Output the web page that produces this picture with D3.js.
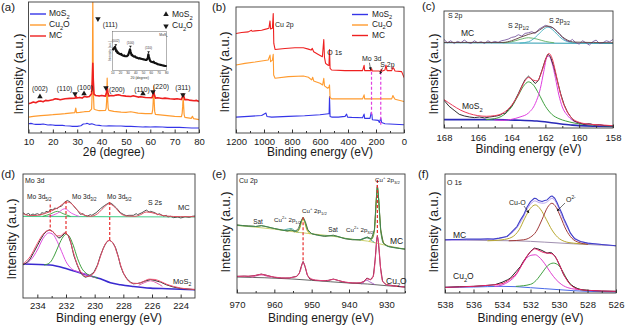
<!DOCTYPE html>
<html>
<head>
<meta charset="utf-8">
<script src="https://cdn.jsdelivr.net/npm/d3@7"></script>
<style>
  body { margin: 0; background: #fff; }
  text { font-family: "Liberation Sans", Arial, sans-serif; }
</style>
</head>
<body>
<svg id="fig" width="625" height="328"></svg>
<script>
// ---------- (a) XRD : [2theta, intensity] ----------
const xrdTicks = [10, 20, 30, 40, 50, 60, 70, 80];
const xrdMoS2 = [[10,28],[11,29],[12,27],[13,26],[15,26],[16,27],[18,24],[19,25],[20,24],[21,23],[22,23],[24,23],[25,22],[27,21],[28,20],[30,20],[31.5,22],[32.5,27],[33.5,28],[34,29],[35,26],[36,28],[37.5,24],[39,23],[40,22],[42,21],[43,22],[46,21],[48,21],[50,20],[52,20],[55,19],[57,18],[58,19],[60,18],[62,19],[65,18],[67,17],[70,17],[72,17],[75,16],[77,15],[80,15]];
const xrdCu2O = [[10,48],[12,50],[15,52],[18,54],[20,55],[23,57],[25,58],[27,60],[29,61],[29.4,75],[29.7,61],[31,62],[33,64],[35,65],[35.9,72],[36.1,110],[36.25,200],[36.4,420],[36.55,200],[36.7,110],[36.9,72],[37.5,70],[39,67],[41.6,68],[41.9,75],[42.1,100],[42.3,165],[42.5,100],[42.7,75],[43.0,68],[45,65],[48,63],[50,62],[52,64],[55,60],[58,58],[60.7,58],[61.0,70],[61.2,95],[61.4,142],[61.6,95],[61.8,65],[62.1,56],[65,54],[70,50],[72.8,49],[73.1,60],[73.3,80],[73.5,110],[73.7,80],[73.9,55],[74.2,47],[76.8,44],[77.3,50],[77.8,43],[80,40]];
const xrdMC = [[10,88],[11,90],[12,93],[13,91],[14,95],[15,96],[16,94],[17,98],[18,97],[20,100],[21,103],[22,102],[23,100],[25,103],[27,104],[29.2,105],[29.5,111],[29.8,105],[31,107],[32,105],[33,110],[34,108],[35,110],[35.9,118],[36.2,160],[36.4,210],[36.6,160],[36.9,117],[37.5,113],[38.5,112],[39,111],[40,113],[41.6,111],[42.0,122],[42.3,138],[42.6,122],[43,111],[44,113],[45,112],[46,114],[47,115],[48,113],[50,111],[52,110],[53,112],[55,108],[56,109],[58,107],[60.7,106],[61.1,115],[61.4,125],[61.7,115],[62.1,105],[63,106],[65,104],[66,105],[68,103],[70,102],[71,103],[72.8,101],[73.2,110],[73.5,118],[73.8,110],[74.2,100],[75,101],[76,99],[78,97],[79,98],[80,95]];
// label text, 2theta, intensity ; marker type, marker 2theta, marker intensity
const xrdLabels = [
  ["(002)", 14.7, 133, "up", 14.7, 109],
  ["(110)", 24.8, 133, "down", 29.1, 118],
  ["(100)", 33.2, 136, "up", 32.8, 118],
  ["(200)", 46.3, 130, "down", 41.8, 136],
  ["(110)", 56.6, 130, "up", 57.0, 118],
  ["(220)", 64.4, 137, "down", 61.1, 124],
  ["(311)", 73.4, 136, "down", 73.4, 115],
  ["(111)", 43.5, 325, "down", 38.5, 343]
];
// inset: MoS2 XRD, [2theta, % of inset height]
const insetTicks = [10, 20, 30, 40, 50, 60, 70, 80];
const insetMoS2 = [[10,53],[11,56],[12,58],[13,61],[13.6,57],[14.5,50],[15,52],[16,46],[17,47],[18,44],[20,42],[21,43],[22,40],[24,38],[25,39],[26,37],[28,37],[30,40],[31.5,48],[32.4,55],[33.3,48],[34.5,40],[35,41],[36,38],[38,36],[39,37],[40,34],[42,33],[44,31],[45,32],[46,31],[48,30],[50,29],[52,28],[54,28],[55.5,32],[56.2,42],[57,35],[58.5,25],[60,23],[62,22],[63,23],[64,20],[66,19],[68,17],[70,16],[72,15],[74,14],[76,13],[78,12],[80,12]];
const insetLabels = [["(002)", 14, 66], ["(100)", 33, 62], ["(110)", 56.5, 48]];

// ---------- (b) XPS survey : [BE, intensity] ----------
const surveyTicks = [1200, 1000, 800, 600, 400, 200, 0];
const surveyMC = [[1200,300],[1160,303],[1112,305],[1090,310],[1085,307],[1064,308],[1017,310],[981,314],[965,316],[957,338],[953,314],[940,316],[934,360],[930,270],[921,252],[850,255],[779,257],[719,257],[683,253],[664,250],[655,255],[645,245],[612,237],[583,230],[573,282],[568,228],[560,210],[545,205],[536,204],[532,252],[528,195],[517,190],[421,188],[296,188],[285,204],[281,188],[236,188],[231,194],[227,187],[183,187],[168,186],[163,192],[158,186],[136,190],[129,205],[121,188],[88,188],[79,198],[74,195],[64,187],[17,185],[0,168]];
const surveyCu2O = [[1200,205],[1136,210],[1064,214],[1005,218],[970,220],[957,235],[953,215],[940,220],[934,237],[931,175],[921,165],[826,170],[719,172],[683,168],[660,160],[652,168],[645,157],[600,150],[581,145],[573,165],[568,142],[545,135],[536,138],[532,145],[528,107],[517,103],[296,103],[285,115],[281,103],[88,103],[79,113],[74,108],[64,102],[0,95]];
const surveyMoS2 = [[1200,48],[1112,50],[1017,53],[986,60],[979,50],[945,48],[826,50],[710,52],[600,55],[540,58],[535,58],[532,110],[528,50],[517,48],[469,48],[421,50],[410,57],[403,48],[374,47],[296,46],[285,57],[281,44],[243,44],[234,62],[229,55],[226,40],[183,38],[176,32],[166,45],[160,32],[136,28],[0,25]];
const surveyMarks = [[232, 185, 50], [166, 185, 25]];

// ---------- (c) S 2p : [BE, intensity] ----------
const s2pTicks = [168, 166, 164, 162, 160, 158];
const s2pMoS2Data = [[168,83],[167.7,65],[167.4,53],[167.1,41],[166.8,36],[166.5,33],[166.2,31],[165.9,33],[165.6,30],[165.3,33],[165,35],[164.7,38],[164.5,44],[164.4,42],[164.2,55],[164,65],[163.8,83],[163.6,103],[163.4,125],[163.2,145],[163,155],[162.8,145],[162.6,133],[162.4,143],[162.2,173],[162,205],[161.85,221],[161.7,213],[161.5,183],[161.3,143],[161.1,103],[160.9,71],[160.7,48],[160.5,33],[160.3,21],[160,15],[159.7,11],[159.4,13],[159.1,9],[158.8,10],[158.5,7],[158.2,7],[158,6]];
const s2pMoS2Fit = [[168,85],[167.5,68],[167,53],[166.5,43],[166,37],[165.5,35],[165,37],[164.5,45],[164,68],[163.6,100],[163.3,133],[163,151],[162.7,143],[162.5,141],[162.2,171],[162,203],[161.8,223],[161.6,208],[161.4,168],[161.2,121],[161,83],[160.7,48],[160.4,28],[160,17],[159.5,12],[159,10],[158,7]];
const s2pMoS2Half = [[165.5,25],[165,28],[164.5,38],[164,63],[163.6,98],[163.3,125],[163,138],[162.7,128],[162.4,103],[162,65],[161.6,40],[161.2,28],[160.8,21],[160.3,15],[159.8,11],[159,8],[158,6]];
const s2pMoS2ThreeHalf = [[165,24],[164.5,23],[164,26],[163.5,33],[163,45],[162.6,73],[162.3,118],[162.1,168],[161.9,213],[161.8,215],[161.6,193],[161.4,148],[161.2,98],[161,63],[160.7,38],[160.4,23],[160,15],[159.5,11],[159,9],[158,7]];
const s2pMoS2Base = [[168,25],[165,25],[163.5,23],[162.5,21],[161.5,15],[160.5,9],[160,7],[158,5]];
const s2pMCData = [[168,265],[167.8,255],[167.6,261],[167.4,253],[167.2,259],[167,255],[166.8,263],[166.6,256],[166.4,253],[166.2,261],[166,255],[165.8,258],[165.6,253],[165.4,261],[165.2,255],[165,259],[164.8,256],[164.6,261],[164.4,263],[164.2,266],[164,271],[163.8,273],[163.6,279],[163.4,275],[163.2,283],[163,285],[162.8,288],[162.6,283],[162.4,295],[162.2,301],[162,307],[161.8,303],[161.6,301],[161.4,293],[161.2,283],[161,271],[160.8,263],[160.6,258],[160.4,265],[160.2,255],[160,251],[159.8,261],[159.6,255],[159.4,248],[159.2,258],[159,263],[158.8,253],[158.6,255],[158.4,261],[158.2,258],[158,265]];
const s2pMCFit = [[168,256],[164.5,256],[164,261],[163.5,271],[163,280],[162.5,288],[162.2,298],[161.9,305],[161.6,301],[161.3,288],[161,273],[160.7,263],[160.3,257],[158,255]];
const s2pMCBase = [[168,255],[158,253]];
const s2pMCHalf = [[164.5,255],[164,258],[163.5,265],[163,270],[162.5,266],[162,259],[161.5,255]];
const s2pMCThreeHalf = [[163.5,254],[163,258],[162.6,271],[162.3,286],[162,299],[161.85,302],[161.6,295],[161.3,280],[161,266],[160.6,257],[160.2,254]];

// ---------- (d) Mo 3d : [BE, intensity] ----------
const mo3dTicks = [234, 232, 230, 228, 226, 224];
const mo3dMCData = [[235,258],[234.8,252],[234.6,256],[234.5,250],[234.3,254],[234.2,252],[234,255],[233.8,251],[233.7,258],[233.5,256],[233.4,262],[233.2,260],[233.1,268],[232.9,266],[232.8,272],[232.6,270],[232.5,275],[232.3,278],[232.1,290],[231.9,295],[231.7,290],[231.5,280],[231.2,265],[231,253],[230.8,255],[230.7,250],[230.5,248],[230.3,252],[230.2,250],[229.9,258],[229.6,270],[229.3,280],[229,288],[228.8,285],[228.5,273],[228.2,258],[228,253],[227.8,249],[227.6,250],[227.3,250],[227.1,255],[227,252],[226.7,258],[226.4,266],[226.2,260],[226.1,262],[225.8,258],[225.6,252],[225.5,255],[225.2,248],[225,250],[224.9,245],[224.7,247],[224.5,243],[224.2,245],[224,242],[223.8,244],[223.7,246],[223.4,244],[223.2,247],[223,248]];
const mo3dMCFit = [[235,255],[234.5,249],[234,250],[233.5,255],[233,264],[232.5,275],[232.2,285],[231.9,290],[231.6,285],[231.2,265],[230.8,252],[230.3,247],[229.8,255],[229.4,272],[229,285],[228.6,275],[228.2,256],[227.8,248],[227.2,247],[226.8,252],[226.4,260],[226,258],[225.5,252],[225,248],[224,246],[223,246]];
const mo3dMCBase = [[235,247],[223,245]];
const mo3dMCComp1 = [[233.6,247],[233.1,254],[232.6,262],[232.2,255],[231.7,247]];
const mo3dMCComp2 = [[233.2,247],[232.6,256],[232.1,270],[231.6,256],[231.1,247]];
const mo3dMoS2Data = [[235,100],[234.7,108],[234.5,118],[234.25,138],[234,158],[233.8,175],[233.55,193],[233.35,202],[233.15,206],[232.95,202],[232.75,192],[232.5,181],[232.3,186],[232.05,198],[231.85,190],[231.65,165],[231.45,128],[231.2,98],[231,78],[230.8,67],[230.65,63],[230.4,66],[230.05,78],[229.8,100],[229.6,128],[229.4,150],[229.25,163],[229.1,172],[228.95,175],[228.75,168],[228.55,153],[228.35,125],[228.2,98],[228,75],[227.75,58],[227.5,48],[227.3,43],[227,44],[226.8,46],[226.5,51],[226.1,56],[225.8,53],[225.4,48],[225,40],[224.5,33],[224,29],[223.5,27],[223,25]];
const mo3dMoS2Fit = [[235,103],[234.5,125],[234,165],[233.6,193],[233.2,205],[232.9,200],[232.6,188],[232.4,188],[232.1,197],[231.8,185],[231.5,140],[231.2,100],[230.9,75],[230.6,65],[230.2,70],[229.9,88],[229.6,125],[229.3,160],[229,174],[228.7,165],[228.4,130],[228.1,88],[227.8,60],[227.4,45],[227,44],[226.6,50],[226.2,57],[225.8,56],[225.4,50],[225,42],[224.5,35],[224,30],[223,26]];
const mo3dMoS2Base = [[235,103],[233.1,100],[231.9,88],[230.8,73],[229.6,58],[228.9,46],[228.2,40],[227.3,35],[226.1,30],[224.95,28],[223,25]];
const mo3dMoS2Comp1 = [[234.8,104],[234.4,118],[234,145],[233.6,180],[233.2,197],[232.9,192],[232.6,170],[232.3,140],[232,110],[231.6,88],[231.2,80],[230.8,74],[230.4,68],[230,62]];
const mo3dMoS2Comp2 = [[233.5,100],[233.1,108],[232.8,130],[232.5,160],[232.2,185],[232,193],[231.8,188],[231.5,160],[231.2,120],[230.9,90],[230.6,75],[230.2,66],[229.8,60]];
const mo3dMoS2Comp3 = [[226.9,39],[226.5,47],[226.1,52],[225.7,46],[225.3,36]];
const mo3dMarks = [[233.1, 283, 203], [232.0, 293, 193], [228.95, 290, 173]];

// ---------- (e) Cu 2p : [BE, intensity] ----------
const cu2pTicks = [970, 960, 950, 940, 930];
const cu2pMCData = [[970,205],[968.5,203],[967,202],[965.5,201],[965,200],[963.5,203],[962,199],[960,194],[958,190],[956.5,186],[955.5,190],[954.5,184],[953.5,195],[952.9,215],[952.3,228],[951.7,215],[951,190],[950,178],[948.5,175],[946.5,170],[944.2,174],[943,170],[941,163],[939,160],[937,160],[935.5,166],[935,168],[934,163],[933.2,190],[932.7,280],[932.4,325],[932.1,290],[931.5,190],[930.8,150],[929.5,140],[928,137],[926.5,134],[925,132]];
const cu2pMCFit = [[970,204],[965,200],[963.5,202],[960,194],[957,188],[955.5,189],[954,186],[953.2,198],[952.7,218],[952.3,226],[951.8,214],[951.2,192],[950,179],[947,172],[944.2,172],[941,164],[937,160],[935.2,166],[934,162],[933.2,188],[932.7,278],[932.4,320],[932.1,288],[931.5,188],[930.8,150],[929.5,140],[927,135],[925,132]];
const cu2pMCBase = [[970,203],[960,192],[954,183],[950,178],[945,172],[940,163],[935,156],[930,143],[925,132]];
const cu2pMCCuI = [[934.5,157],[933.5,170],[933,215],[932.6,298],[932.4,316],[932.1,288],[931.6,200],[931,160],[930.3,145]];
const cu2pMCCuIHalf = [[954,183],[953.2,194],[952.7,213],[952.3,222],[951.9,213],[951.3,190],[950.5,178]];
const cu2pMCCuII = [[937,160],[935.8,166],[935.1,168],[934.3,161],[933.3,153]];
const cu2pMCCuIIHalf = [[957.5,189],[956.2,193],[955.5,194],[954.6,188],[953.6,183]];
const cu2pCu2OData = [[970,50],[968,51],[967,50],[965,53],[963.5,57],[962,53],[960,47],[958,45],[956,45],[955,48],[954,50],[953.3,60],[952.8,80],[952.3,95],[951.8,80],[951.2,55],[950.5,42],[949,38],[947,37],[945.5,38],[944.2,42],[943,38],[941,32],[939,30],[937,30],[936,35],[935.2,45],[934.3,40],[933.5,50],[933,100],[932.6,160],[932.4,172],[932.1,150],[931.6,80],[931,35],[930,25],[928,22],[925,18]];
const cu2pCu2OFit = [[970,50],[966,51],[963.5,56],[961,50],[957,45],[955,47],[953.8,52],[953,68],[952.3,93],[951.6,74],[951,50],[949,39],[946,37],[944.2,41],[942,35],[938,30],[936,34],[935.2,43],[934.2,40],[933.4,55],[932.9,110],[932.4,170],[932,140],[931.5,70],[931,36],[930,25],[925,18]];
const cu2pCu2OBase = [[970,48],[955,42],[950,38],[940,30],[935,27],[930,22],[925,18]];
const cu2pCu2OComp = [[936.5,27],[935.3,38],[934.2,32],[933.2,26]];
const cu2pCu2OSat = [[966,47],[963.5,54],[961,46]];
const cu2pMarks = [[952.3, 228, 95], [932.4, 340, 172]];

// ---------- (f) O 1s : [BE, intensity] ----------
const o1sTicks = [538, 536, 534, 532, 530, 528, 526];
const o1sMCData = [[538,160],[537.5,161],[537,161],[536.5,162],[536,162],[535.5,162],[535,163],[534.6,162],[534.2,165],[533.65,170],[533.4,180],[532.95,200],[532.7,220],[532.48,235],[532.25,258],[532,275],[531.73,285],[531.6,284],[531.43,278],[531.19,275],[531,278],[530.84,280],[530.6,290],[530.49,292],[530.3,285],[530.14,272],[530.02,260],[529.8,240],[529.67,225],[529.4,200],[529.2,180],[528.9,163],[528.5,155],[528,150],[527,146],[526,142]];
const o1sMCFit = [[538,158],[536,160],[535,161],[534,166],[533.4,177],[533,194],[532.5,228],[532.2,255],[532,267],[531.7,277],[531.4,272],[531.1,270],[530.8,275],[530.5,285],[530.2,272],[530,253],[529.7,222],[529.4,195],[529.1,175],[528.7,160],[528.2,152],[527,146],[526,142]];
const o1sMCBase = [[538,160],[535,158],[533,157],[531,153],[529,148],[527,144],[526,142]];
const o1sMCCuO = [[535,157],[534,160],[533.3,168],[532.8,190],[532.4,225],[532,255],[531.66,265],[531.3,252],[530.9,222],[530.5,190],[530.1,168],[529.6,155],[529,150],[528,147]];
const o1sMCO2 = [[533.5,157],[532.5,160],[532,168],[531.6,185],[531.2,220],[530.8,258],[530.5,270],[530.2,258],[529.9,230],[529.5,190],[529.1,165],[528.6,152],[528,147]];
const o1sCu2OData = [[538,17],[537,19],[536,20],[535,23],[534.5,25],[534,32],[533.6,40],[533.4,45],[533,65],[532.7,80],[532.5,95],[532.25,110],[532,125],[531.73,135],[531.5,133],[531.2,128],[530.84,120],[530.6,122],[530.49,120],[530.3,112],[530.14,100],[529.9,78],[529.67,55],[529.4,38],[529.2,25],[528.8,15],[528.5,10],[528,8],[527,6],[526,5]];
const o1sCu2OFit = [[538,17],[536,20],[535,23],[534,28],[533.5,40],[533,58],[532.6,85],[532.3,108],[532,124],[531.7,133],[531.4,128],[531.1,122],[530.8,120],[530.5,118],[530.2,105],[529.9,78],[529.6,50],[529.3,30],[529,18],[528.6,11],[528,8],[526,5]];
const o1sCu2OCuO = [[534.5,20],[534,24],[533.5,35],[533,55],[532.6,85],[532.2,108],[531.9,114],[531.66,115],[531.4,108],[531,88],[530.6,62],[530.2,40],[529.8,25],[529.3,15],[528.5,10]];
const o1sCu2OO2 = [[533,20],[532,26],[531.6,38],[531.2,60],[530.8,82],[530.4,90],[530,82],[529.7,62],[529.4,38],[529,20],[528.5,11],[528,8]];
const o1sCu2OBase = [[538,17],[536,18],[534,20],[533,19],[532,16],[531,13],[530,10],[529,7],[528,5],[526,3]];

// ---------- drawing ----------
const svg = d3.select("#fig");
const INK = "#1a1a1a";

const defs = svg.append("defs");
defs.append("marker").attr("id", "arr").attr("viewBox", "0 0 10 10")
  .attr("refX", 9).attr("refY", 5).attr("markerWidth", 5).attr("markerHeight", 5)
  .attr("orient", "auto")
  .append("path").attr("d", "M0,0L10,5L0,10z").attr("fill", INK);

// text with _{sub} and ^{sup}
const label = (g, x, y, str, size, anchor = "start", opts = {}) => {
  const t = g.append("text").attr("x", x).attr("y", y)
    .attr("font-size", size).attr("text-anchor", anchor)
    .attr("dominant-baseline", "middle").attr("fill", opts.color || INK);
  if (opts.rotate) t.attr("transform", `rotate(-90,${x},${y})`);
  const re = /([_^])\{([^}]*)\}|([^_^]+)/g;
  let m;
  while ((m = re.exec(str))) {
    if (m[3]) t.append("tspan").text(m[3]);
    else t.append("tspan").attr("baseline-shift", m[1] === "_" ? "sub" : "super")
      .attr("font-size", "68%").text(m[2]);
  }
  return t;
};

const panel = (cfg) => {
  const [x0, y0, x1, y1] = cfg.box;
  const x = d3.scaleLinear().domain(cfg.xDomain).range([x0, x1]);
  const y = d3.scaleLinear().domain(cfg.yDomain).range([y1, y0]);
  const g = svg.append("g");
  defs.append("clipPath").attr("id", "clip-" + cfg.id)
    .append("rect").attr("x", x0).attr("y", y0).attr("width", x1 - x0).attr("height", y1 - y0);
  const plot = g.append("g").attr("clip-path", `url(#clip-${cfg.id})`);

  const minor = d3.axisBottom(x).tickValues(cfg.minor).tickSize(-2).tickFormat("");
  g.append("g").attr("transform", `translate(0,${y1})`).call(minor)
    .call((s) => s.select(".domain").remove())
    .selectAll("line").attr("stroke", "#333");
  const major = d3.axisBottom(x).tickValues(cfg.ticks).tickSize(-3.5)
    .tickPadding(cfg.pad).tickFormat(d3.format("d"));
  const ax = g.append("g").attr("transform", `translate(0,${y1})`).call(major);
  ax.select(".domain").remove();
  ax.selectAll("line").attr("stroke", "#333");
  ax.selectAll("text").attr("font-size", 9.5).attr("fill", INK)
    .attr("font-family", '"Liberation Sans", Arial, sans-serif');

  g.append("rect").attr("x", x0).attr("y", y0).attr("width", x1 - x0).attr("height", y1 - y0)
    .attr("fill", "none").attr("stroke", "#3a3a3a").attr("stroke-width", 0.9);

  label(g, (x0 + x1) / 2, cfg.titleY, cfg.xTitle, 12, "middle");
  label(g, cfg.yTitleX, cfg.yTitleY, "Intensity (a.u.)", 12.8, "middle", { rotate: true });
  label(g, cfg.tagX, cfg.tagY, cfg.tag, 11.5, "start");
  const ann = svg.append("g");
  return { x, y, g, plot, ann };
};

const draw = (p, data, color, width = 1, smooth = false) => {
  const line = d3.line().x((d) => p.x(d[0])).y((d) => p.y(d[1]));
  if (smooth) line.curve(d3.curveMonotoneX);
  p.plot.append("path").datum(data).attr("d", line).attr("fill", "none")
    .attr("stroke", color).attr("stroke-width", width)
    .attr("stroke-linejoin", "round").attr("stroke-linecap", "round");
};

const vdash = (p, marks, color) => {
  p.plot.selectAll(null).data(marks).join("line")
    .attr("x1", (d) => p.x(d[0])).attr("x2", (d) => p.x(d[0]))
    .attr("y1", (d) => p.y(d[1])).attr("y2", (d) => p.y(d[2]))
    .attr("stroke", color).attr("stroke-width", 1.2).attr("stroke-dasharray", "3,2");
};

const tri = (g, x, y, dir, size = 14) => {
  g.append("path").attr("d", d3.symbol(d3.symbolTriangle, size)())
    .attr("transform", `translate(${x},${y}) rotate(${dir === "down" ? 180 : 0})`)
    .attr("fill", INK);
};

const range = (a, b, s) => d3.range(a, b + s / 2, s);

// ----- (a) -----
const pa = panel({
  id: "a", box: [28.5, 2, 199, 133], xDomain: [10, 80], yDomain: [0, 394],
  ticks: xrdTicks, minor: range(15, 75, 10), pad: 5,
  xTitle: "2θ (degree)", titleY: 153, yTitleX: 20, yTitleY: 74, tag: "(a)", tagX: 1, tagY: 8
});
draw(pa, xrdMoS2, "#3535e8", 1.1);
draw(pa, xrdCu2O, "#ff9b2f", 1.2);
draw(pa, xrdMC, "#ee2020", 1.6);
xrdLabels.forEach(([t, lx, ly, dir, mx, my]) => {
  label(pa.ann, pa.x(lx), pa.y(ly), t, 6.8, "middle");
  tri(pa.ann, pa.x(mx), pa.y(my), dir, 13);
});
// legend (a)
[["MoS_{2}", "#3535e8"], ["Cu_{2}O", "#ff9b2f"], ["MC", "#ee2020"]].forEach(([t, c], i) => {
  const ly = 14 + i * 11;
  pa.ann.append("line").attr("x1", 30).attr("x2", 46).attr("y1", ly).attr("y2", ly)
    .attr("stroke", c).attr("stroke-width", 1.4);
  label(pa.ann, 49, ly, t, 8.5);
});
tri(pa.ann, 166, 14.5, "up", 13);
label(pa.ann, 172, 14.5, "MoS_{2}", 8.5);
tri(pa.ann, 166, 26, "down", 13);
label(pa.ann, 172, 26, "Cu_{2}O", 8.5);
// inset
{
  const ix = d3.scaleLinear().domain([10, 80]).range([112.7, 166.7]);
  const iy = d3.scaleLinear().domain([0, 100]).range([70.7, 31.7]);
  const ig = pa.ann.append("g");
  ig.append("rect").attr("x", 112.7).attr("y", 31.7).attr("width", 54).attr("height", 39)
    .attr("fill", "#fff").attr("stroke", "#666").attr("stroke-width", 0.5);
  ig.append("path").datum(insetMoS2)
    .attr("d", d3.line().x((d) => ix(d[0])).y((d) => iy(d[1])))
    .attr("fill", "none").attr("stroke", "#111").attr("stroke-width", 2.2).attr("stroke-linejoin", "round");
  insetTicks.forEach((t) => {
    ig.append("text").attr("x", ix(t)).attr("y", 73.5).attr("font-size", 3.2)
      .attr("text-anchor", "middle").attr("fill", "#333").text(t);
  });
  label(ig, 139.7, 77.5, "2θ (degree)", 3.6, "middle", { color: "#333" });
  label(ig, 110.2, 51, "Intensity (a.u.)", 3.2, "middle", { color: "#333", rotate: true });
  label(ig, 163.5, 34.5, "MoS_{2}", 3.4, "middle", { color: "#333" });
  insetLabels.forEach(([t, lx, ly]) => {
    label(ig, ix(lx), iy(ly) - 3.5, t, 3.2, "middle", { color: "#333" });
    tri(ig, ix(lx), iy(ly), "down", 3);
  });
}

// ----- (b) -----
const pb = panel({
  id: "b", box: [236, 7, 404, 133], xDomain: [1200, 0], yDomain: [0, 380],
  ticks: surveyTicks, minor: range(100, 1100, 200), pad: 5,
  xTitle: "Binding energy (eV)", titleY: 153, yTitleX: 226, yTitleY: 72, tag: "(b)", tagX: 212, tagY: 8
});
draw(pb, surveyMoS2, "#3535e8", 1.1);
draw(pb, surveyCu2O, "#ff9b2f", 1.1);
draw(pb, surveyMC, "#ee2020", 1.1);
vdash(pb, surveyMarks, "#e040e0");
label(pb.ann, pb.x(921), pb.y(325), "Cu 2p", 7);
label(pb.ann, pb.x(548), pb.y(240), "O 1s", 7);
label(pb.ann, pb.x(300), pb.y(222), "Mo 3d", 7);
label(pb.ann, pb.x(170), pb.y(206), "S 2p", 7);
pb.ann.append("line").attr("x1", pb.x(247)).attr("y1", pb.y(212)).attr("x2", pb.x(238)).attr("y2", pb.y(190))
  .attr("stroke", INK).attr("stroke-width", 0.6).attr("marker-end", "url(#arr)");
pb.ann.append("line").attr("x1", pb.x(152)).attr("y1", pb.y(197)).attr("x2", pb.x(172)).attr("y2", pb.y(178))
  .attr("stroke", INK).attr("stroke-width", 0.6).attr("marker-end", "url(#arr)");
[["MoS_{2}", "#3535e8"], ["Cu_{2}O", "#ff9b2f"], ["MC", "#ee2020"]].forEach(([t, c], i) => {
  const ly = 14.5 + i * 10.5;
  pb.ann.append("line").attr("x1", 352).attr("x2", 368).attr("y1", ly).attr("y2", ly)
    .attr("stroke", c).attr("stroke-width", 1.4);
  label(pb.ann, 372, ly, t, 8.3);
});

// ----- (c) -----
const pc = panel({
  id: "c", box: [444, 11, 613, 128], xDomain: [168, 158], yDomain: [0, 350],
  ticks: s2pTicks, minor: range(159, 167, 2), pad: 6.5,
  xTitle: "Binding energy (eV)", titleY: 150, yTitleX: 435, yTitleY: 74, tag: "(c)", tagX: 422, tagY: 7
});
draw(pc, s2pMoS2Base, "#2a2ab8", 1.6, true);
draw(pc, s2pMoS2Half, "#3fa03f", 1, true);
draw(pc, s2pMoS2ThreeHalf, "#e03ce0", 1, true);
draw(pc, s2pMoS2Data, "#303030", 1);
draw(pc, s2pMoS2Fit, "#ec3a5a", 1, true);
draw(pc, s2pMCBase, "#2a9ab0", 1, true);
draw(pc, s2pMCHalf, "#60b060", 0.9, true);
draw(pc, s2pMCThreeHalf, "#40b0c0", 0.9, true);
draw(pc, s2pMCData, "#7a5aa0", 0.9);
draw(pc, s2pMCFit, "#5a3a3a", 0.9, true);
label(pc.ann, 448, 16, "S 2p", 7);
label(pc.ann, 461, 34, "MC", 8.5);
label(pc.ann, 462, 107, "MoS_{2}", 8.5);
label(pc.ann, 508, 26, "S 2p_{1/2}", 7);
label(pc.ann, 549, 21, "S 2p_{3/2}", 7);

// ----- (d) -----
const pd = panel({
  id: "d", box: [23, 174, 195, 298], xDomain: [235, 223], yDomain: [0, 375],
  ticks: mo3dTicks, minor: range(225, 233, 2), pad: 4.5,
  xTitle: "Binding energy (eV)", titleY: 319, yTitleX: 13, yTitleY: 239, tag: "(d)", tagX: 1, tagY: 175
});
draw(pd, mo3dMoS2Base, "#3a2ad0", 1.6, true);
draw(pd, mo3dMoS2Comp1, "#e050e0", 1, true);
draw(pd, mo3dMoS2Comp2, "#40a040", 1, true);
draw(pd, mo3dMoS2Comp3, "#e050a0", 0.9, true);
draw(pd, mo3dMoS2Data, "#303030", 1);
draw(pd, mo3dMoS2Fit, "#f05070", 1, true);
draw(pd, mo3dMCBase, "#50d090", 1.2, true);
draw(pd, mo3dMCComp1, "#40a040", 0.9, true);
draw(pd, mo3dMCComp2, "#e050e0", 0.9, true);
draw(pd, mo3dMCData, "#404040", 0.9);
draw(pd, mo3dMCFit, "#e05060", 1, true);
vdash(pd, mo3dMarks, "#e83030");
label(pd.ann, 25, 181, "Mo 3d", 7);
label(pd.ann, 27, 197, "Mo 3d_{5/2}", 6.6);
label(pd.ann, 72, 197, "Mo 3d_{3/2}", 6.6);
label(pd.ann, 107, 197, "Mo 3d_{5/2}", 6.6);
label(pd.ann, 148, 203, "S 2s", 7);
label(pd.ann, 178, 208, "MC", 7.5);
label(pd.ann, 173, 282, "MoS_{2}", 7.5);

// ----- (e) -----
const pe = panel({
  id: "e", box: [237, 174, 405, 293], xDomain: [970, 925], yDomain: [0, 358],
  ticks: cu2pTicks, minor: range(925, 965, 10), pad: 8.5,
  xTitle: "Binding energy (eV)", titleY: 319, yTitleX: 227, yTitleY: 232, tag: "(e)", tagX: 212, tagY: 175
});
draw(pe, cu2pMCBase, "#c8d070", 1, true);
draw(pe, cu2pMCCuII, "#40a0a0", 0.9, true);
draw(pe, cu2pMCCuIIHalf, "#40a0a0", 0.9, true);
draw(pe, cu2pMCCuI, "#e8c020", 1, true);
draw(pe, cu2pMCCuIHalf, "#e8c020", 1, true);
draw(pe, cu2pMCData, "#5a7040", 1);
draw(pe, cu2pMCFit, "#3a8a50", 0.9, true);
draw(pe, cu2pCu2OBase, "#555555", 0.9, true);
draw(pe, cu2pCu2OComp, "#a050c0", 0.9, true);
draw(pe, cu2pCu2OSat, "#e060b0", 0.9, true);
draw(pe, cu2pCu2OData, "#7a1f3d", 1);
draw(pe, cu2pCu2OFit, "#e0407a", 1, true);
vdash(pe, cu2pMarks, "#e83030");
label(pe.ann, 239, 181, "Cu 2p", 7);
label(pe.ann, 258, 221.5, "Sat", 6.3, "middle");
label(pe.ann, 274, 220, "Cu^{2+} 2p_{1/2}", 6.2);
label(pe.ann, 302, 211, "Cu^{+} 2p_{1/2}", 6.2);
label(pe.ann, 333, 230, "Sat", 6.3, "middle");
label(pe.ann, 346, 230, "Cu^{2+} 2p_{3/2}", 6.2);
label(pe.ann, 375, 180, "Cu^{+} 2p_{3/2}", 6.2);
label(pe.ann, 390, 242, "MC", 8.5);
label(pe.ann, 386, 282, "Cu_{2}O", 8.5);

// ----- (f) -----
const pf = panel({
  id: "f", box: [445, 174, 616, 293], xDomain: [538, 526], yDomain: [0, 358],
  ticks: o1sTicks, minor: range(527, 537, 2), pad: 8.5,
  xTitle: "Binding energy (eV)", titleY: 319, yTitleX: 435, yTitleY: 232, tag: "(f)", tagX: 418, tagY: 175
});
draw(pf, o1sMCBase, "#a090b0", 1, true);
draw(pf, o1sMCCuO, "#b8a830", 1, true);
draw(pf, o1sMCO2, "#a03a3a", 1, true);
draw(pf, o1sMCFit, "#b8a0f0", 1, true);
draw(pf, o1sMCData, "#4040c8", 1.1);
draw(pf, o1sCu2OBase, "#4a6ae8", 1, true);
draw(pf, o1sCu2OCuO, "#e040d0", 1, true);
draw(pf, o1sCu2OO2, "#40a040", 1, true);
draw(pf, o1sCu2OData, "#222222", 1);
draw(pf, o1sCu2OFit, "#e8206a", 1, true);
label(pf.ann, 447, 183, "O 1s", 7);
label(pf.ann, 509, 203, "Cu-O", 7);
pf.ann.append("line").attr("x1", 524).attr("y1", 206).attr("x2", 529).attr("y2", 213)
  .attr("stroke", INK).attr("stroke-width", 0.6).attr("marker-end", "url(#arr)");
label(pf.ann, 566, 200, "O^{2-}", 7);
pf.ann.append("line").attr("x1", 565).attr("y1", 203).attr("x2", 557).attr("y2", 211)
  .attr("stroke", INK).attr("stroke-width", 0.6).attr("marker-end", "url(#arr)");
label(pf.ann, 453, 236, "MC", 8.5);
label(pf.ann, 453, 277, "Cu_{2}O", 8.5);
</script>
</body>
</html>
